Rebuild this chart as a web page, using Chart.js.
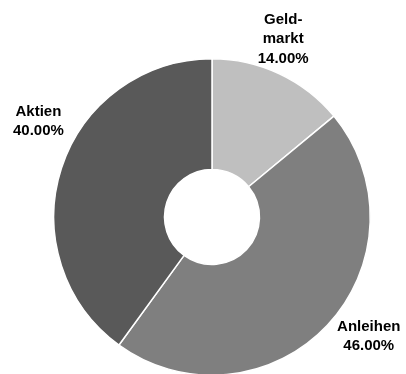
<!DOCTYPE html>
<html>
<head>
<meta charset="utf-8">
<script src="https://cdn.jsdelivr.net/npm/chart.js@4/dist/chart.umd.min.js"></script>
<style>
  html, body { margin: 0; padding: 0; background: #fff; overflow: hidden; }
  #wrap { position: relative; width: 406px; height: 380px; }
</style>
</head>
<body>
<div id="wrap"><canvas id="c"></canvas></div>
<script>
// data
var categories = ['Geldmarkt', 'Anleihen', 'Aktien'];
var shares = [14, 46, 40];
var labelLines = [['Geld-', 'markt'], ['Anleihen'], ['Aktien']];
var sliceColors = ['#bfbfbf', '#7f7f7f', '#595959'];

// label placement tweaks (px), relative to the point out along the slice middle
var labelNudge = [[-11, -3], [16, -13], [10, -36]];

// draws the category + percent next to each slice
var outsideLabels = {
  id: 'outsideLabels',
  afterDatasetsDraw: function (chart) {
    var ctx = chart.ctx;
    var meta = chart.getDatasetMeta(0);
    var total = shares.reduce(function (a, b) { return a + b; }, 0);
    ctx.save();
    ctx.font = 'bold 15px "Liberation Sans", Arial, sans-serif';
    ctx.fillStyle = '#000';
    ctx.textAlign = 'center';
    ctx.textBaseline = 'middle';
    meta.data.forEach(function (arc, i) {
      var mid = (arc.startAngle + arc.endAngle) / 2;
      var d = arc.outerRadius * 1.22;
      var x = arc.x + Math.cos(mid) * d + labelNudge[i][0];
      var y = arc.y + Math.sin(mid) * d + labelNudge[i][1];
      var lines = labelLines[i].concat([(shares[i] / total * 100).toFixed(2) + '%']);
      var lh = 19.5;
      var y0 = y - (lines.length - 1) * lh / 2;
      lines.forEach(function (t, k) {
        ctx.fillText(t, x, y0 + k * lh);
      });
    });
    ctx.restore();
  }
};

new Chart(document.getElementById('c'), {
  type: 'doughnut',
  data: {
    labels: categories,
    datasets: [{
      data: shares,
      backgroundColor: sliceColors,
      borderColor: '#ffffff',
      borderWidth: 1.5,
      hoverOffset: 0
    }]
  },
  options: {
    responsive: true,
    maintainAspectRatio: false,
    animation: false,
    cutout: '30%',
    layout: { padding: { top: 58, bottom: 4, left: 53, right: 35 } },
    plugins: {
      legend: { display: false },
      tooltip: { enabled: false }
    }
  },
  plugins: [outsideLabels]
});
</script>
</body>
</html>
